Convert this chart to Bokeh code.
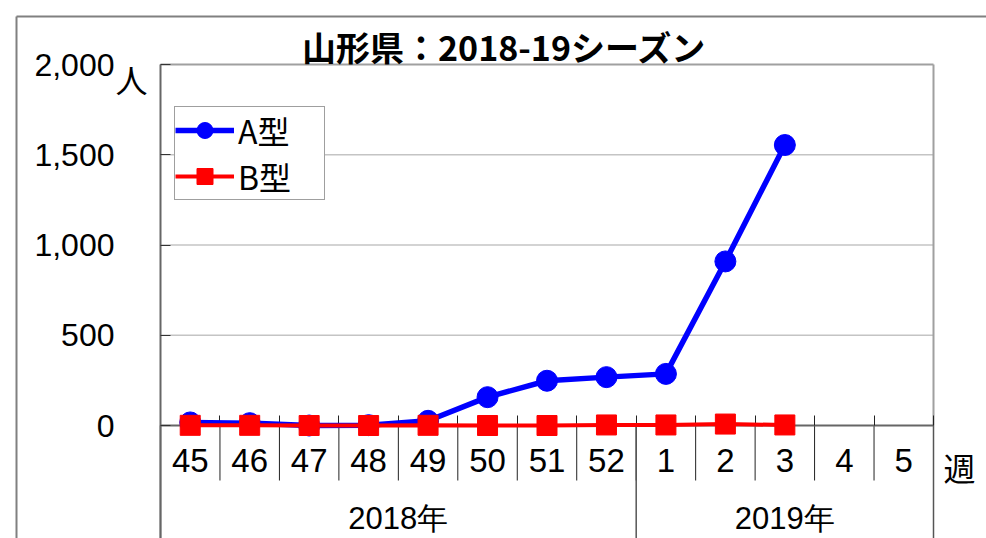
from bokeh.plotting import figure
from bokeh.models import (Range1d, FixedTicker, NumeralTickFormatter, Legend, LegendItem,
                          Label, ColumnDataSource)
from bokeh.core.properties import value
from bokeh.embed import file_html
from bokeh.resources import INLINE

# ---------------- data ----------------
title_text = "山形県：2018-19シーズン"
weeks_2018 = ["45", "46", "47", "48", "49", "50", "51", "52"]
weeks_2019 = ["1", "2", "3", "4", "5"]
years = ["2018年", "2019年"]
weeks = weeks_2018 + weeks_2019
type_a = [17, 13, 0, 2, 26, 157, 248, 268, 286, 909, 1554]
type_b = [1, 1, 0, 0, 1, 0, 0, 3, 3, 8, 3]
y_ticks = [0, 500, 1000, 1500, 2000]
unit_label = "人"
week_label = "週"

# ---------------- layout constants (pixels) ----------------
W, H = 986, 538
PX_LEFT, PX_RIGHT = 160, 933     # plot area left/right
PX_TOP, PX_ZERO = 64, 425        # y=2000 and y=0 rows
N = len(weeks)
YMAX = 2000
px_x = (PX_RIGHT - PX_LEFT) / N
px_y = (PX_ZERO - PX_TOP) / YMAX


def dx(page_x):
    return (page_x - PX_LEFT) / px_x


def dy(page_y):
    return (PX_ZERO - page_y) / px_y


x0, x1 = dx(0), dx(W)
y0, y1 = dy(H), dy(0)

p = figure(width=W, height=H, output_backend="svg", toolbar_location=None,
           x_range=Range1d(x0, x1), y_range=Range1d(y0, y1), min_border=0)
p.title.visible = False
p.outline_line_color = None
p.background_fill_color = "white"
p.border_fill_color = "white"

centers = [i + 0.5 for i in range(N)]
bounds = list(range(N + 1))

# outer chart border
p.segment(x0=[dx(16), dx(16)], y0=[dy(16), dy(16)], x1=[x1, dx(16)], y1=[dy(16), y0],
          line_color="#808080", line_width=2)

# horizontal grid lines (limited to the plot area)
grid_y = y_ticks[1:-1]
p.xgrid.grid_line_color = None
p.ygrid.grid_line_color = None
p.segment(x0=[0] * len(grid_y), y0=grid_y, x1=[N] * len(grid_y), y1=grid_y,
          line_color="#c4c4c4", line_width=1.5)

# plot area top/right border
p.segment(x0=[0, N], y0=[YMAX, YMAX], x1=[N, N], y1=[YMAX, 0],
          line_color="#a0a0a0", line_width=2)

# category separators below the axis
p.segment(x0=bounds, y0=[0] * len(bounds), x1=bounds, y1=[dy(480)] * len(bounds),
          line_color="#222222", line_width=1)

# year separators
sep_x = [0, len(weeks_2018), N]
p.segment(x0=sep_x, y0=[0] * 3, x1=sep_x, y1=[y0] * 3, line_color="#555555", line_width=1.5)

# x axis
xa = p.xaxis[0]
xa.fixed_location = 0
xa.bounds = (0, N)
xa.ticker = FixedTicker(ticks=centers, minor_ticks=bounds)
xa.major_label_overrides = {c: w for c, w in zip(centers, weeks)}
xa.major_tick_line_color = None
xa.major_tick_in = 0
xa.major_tick_out = 0
xa.minor_tick_in = 10
xa.minor_tick_out = 0
xa.minor_tick_line_color = "#222222"
xa.minor_tick_line_width = 1
xa.axis_line_color = "#666666"
xa.axis_line_width = 2
xa.major_label_standoff = 23
xa.major_label_text_font = "Liberation Sans"
xa.major_label_text_font_size = "33px"
xa.major_label_text_color = "black"

# y axis
ya = p.yaxis[0]
ya.fixed_location = 0
ya.bounds = (y0, YMAX)
ya.ticker = FixedTicker(ticks=y_ticks)
ya.formatter = NumeralTickFormatter(format="0,0")
ya.major_tick_in = 10
ya.major_tick_out = 0
ya.major_tick_line_color = "#333333"
ya.minor_tick_line_color = None
ya.axis_line_color = "#666666"
ya.axis_line_width = 2
ya.major_label_standoff = 46
ya.major_label_text_font = "Liberation Sans"
ya.major_label_text_font_size = "32px"
ya.major_label_text_color = "black"

# series (drawn above the axis line, as in the reference)
xa_pts = centers[:len(type_a)]
xb_pts = centers[:len(type_b)]
la = p.line(xa_pts, type_a, line_color="#0000ff", line_width=5.5, level="overlay")
ca = p.scatter(xa_pts, type_a, marker="circle", size=21, fill_color="#0000ff",
               line_color="#0000ff", level="overlay")
lb = p.line(xb_pts, type_b, line_color="#ff0000", line_width=4, level="overlay")
cb = p.scatter(xb_pts, type_b, marker="square", size=20, fill_color="#ff0000",
               line_color="#ff0000", level="overlay")

legend = Legend(items=[LegendItem(label="A型", renderers=[la, ca]),
                       LegendItem(label="B型", renderers=[lb, cb])],
                location=(174, H - 200), orientation="vertical",
                label_text_font="Noto Sans CJK JP", label_text_font_size="32px",
                label_text_color="black",
                glyph_width=59, glyph_height=40, label_height=40, label_width=86,
                label_standoff=4, padding=0, spacing=0, margin=0,
                border_line_color="#404040", border_line_width=1,
                background_fill_color="white", background_fill_alpha=1)
p.add_layout(legend)

# year labels
year_centers = [len(weeks_2018) / 2, len(weeks_2018) + len(weeks_2019) / 2]
ysrc = ColumnDataSource(dict(x=year_centers, y=[dy(518)] * 2, t=years))
p.text(x="x", y="y", text="t", source=ysrc, text_align="center", text_baseline="middle",
       text_font=value("Liberation Sans"), text_font_size="31px", text_color="black")

# title, unit and week labels
p.add_layout(Label(x=dx(504), y=dy(46), text=title_text, text_align="center",
                   text_baseline="middle", text_font="Noto Sans CJK JP",
                   text_font_style="bold", text_font_size="34px", text_color="black"))
p.add_layout(Label(x=dx(131), y=dy(78), text=unit_label, text_align="center",
                   text_baseline="middle", text_font="Noto Sans CJK JP",
                   text_font_size="32px", text_color="black"))
p.add_layout(Label(x=dx(959), y=dy(466), text=week_label, text_align="center",
                   text_baseline="middle", text_font="Noto Sans CJK JP",
                   text_font_size="32px", text_color="black"))

open("out.html", "w").write(file_html(p, INLINE))
